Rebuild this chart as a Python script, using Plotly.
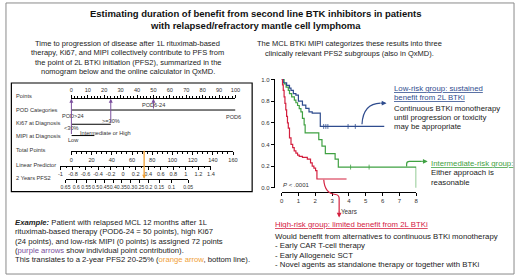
import numpy as np
import plotly.graph_objects as go

W, H = 520, 278
FONT = "Liberation Sans, Arial, sans-serif"
PURPLE = "#7A4E9C"
ORANGE = "#F0A035"
BLUE = "#2F4C8E"
GREEN = "#3FA142"
RED = "#D4203F"
TXT = "#222222"

# ---------------- data ----------------
title_lines = ["Estimating duration of benefit from second line BTK inhibitors in patients",
               "with relapsed/refractory mantle cell lymphoma"]
left_intro = ["Time to progression of disease after 1L rituximab-based",
              "therapy, Ki67, and MIPI collectively contribute to PFS from",
              "the point of 2L BTKi initiation (PFS2), summarized in the",
              "nomogram below and the online calculator in QxMD."]
right_intro = ["The MCL BTKi MIPI categorizes these results into three",
               "clinically relevant PFS2 subgroups (also in QxMD)."]

row_labels = ["Points", "POD Categories", "Ki67 at Diagnosis", "MIPI at Diagnosis",
              "Total Points", "Linear Predictor", "2 Years PFS2"]
points_ticks = [0, 10, 20, 30, 40, 50, 60, 70, 80, 90, 100]
pod_levels = ["POD>24", "POD6-24", "POD6"]
pod_points = [0, 50, 100]
ki67_levels = ["<30%", ">=30%"]
ki67_points = [0, 24]
mipi_levels = ["Low", "Intermediate or High"]
mipi_points = [0, 14]
total_ticks = [0, 20, 40, 60, 80, 100, 120, 140, 160]
lp_ticks = [-1, -0.8, -0.6, -0.4, -0.2, 0, 0.2, 0.4, 0.6, 0.8, 1, 1.2, 1.4]
lp_labels = ["-1", "-0.8", "-0.6", "-0.4", "-0.2", "0", "0.2", "0.4", "0.6", "0.8", "1", "1.2", "1.4"]
pfs2_ticks = [0.65, 0.6, 0.55, 0.5, 0.45, 0.4, 0.35, 0.3, 0.25, 0.2, 0.15, 0.1, 0.05]
pfs2_labels = ["0.65", "0.6", "0.55", "0.5", "0.45", "0.4", "0.35", "0.3", "0.25", "0.2", "0.15", "0.1", "0.05"]
example_contrib = [50, 24, 0]     # POD6-24, Ki67 >=30%, MIPI low
example_total = 72

km_low_t = [0, 0.1, 0.3, 0.47, 0.56, 0.7, 0.85, 1.0, 1.24, 1.44, 1.63, 1.82, 2.3, 6.1]
km_low_s = [1.0, 0.97, 0.945, 0.92, 0.9, 0.87, 0.855, 0.8, 0.764, 0.733, 0.70, 0.69, 0.566, 0.566]
km_low_cens_t = [2.5, 2.63, 2.75, 3.95, 4.38]
km_low_cens_s = [0.566, 0.566, 0.566, 0.566, 0.566]

km_int_t = [0, 0.15, 0.27, 0.4, 0.47, 0.6, 0.76, 0.85, 0.95, 1.05, 1.15, 1.24, 1.34, 1.4,
            2.21, 2.4, 2.6, 3.18, 3.37, 8.0]
km_int_s = [1.0, 0.96, 0.93, 0.9, 0.87, 0.84, 0.81, 0.785, 0.76, 0.73, 0.70, 0.64, 0.58, 0.506,
            0.445, 0.385, 0.315, 0.264, 0.19, 0.0]
km_int_cens_t = [4.1, 5.2]
km_int_cens_s = [0.19, 0.19]

km_high_t = [0, 0.05, 0.1, 0.15, 0.2, 0.25, 0.3, 0.35, 0.4, 0.47, 0.56, 0.66, 0.75, 0.85, 0.95,
             1.05, 1.24, 1.53, 1.72, 1.82, 1.92, 2.02, 2.1, 3.86]
km_high_s = [1.0, 0.95, 0.9, 0.84, 0.78, 0.72, 0.66, 0.6, 0.55, 0.46, 0.40, 0.37, 0.34, 0.32, 0.30,
             0.29, 0.28, 0.264, 0.23, 0.20, 0.18, 0.157, 0.08, 0.08]
km_x_ticks = [0, 1, 2, 3, 4, 5, 6, 7, 8]
km_y_ticks = [0.0, 0.2, 0.4, 0.6, 0.8, 1.0]


def px(x):
    return x / W


def py(y):
    return 1 - y / H


def cll(s):
    return np.log(-np.log(np.asarray(s, dtype=float)))


fig = go.Figure()
ann = []
shapes = []


def txt(x, y, s, size=7.2, color=TXT, anchor="left"):
    ann.append(dict(x=px(x), y=py(y), xref="paper", yref="paper", text=s, showarrow=False,
                    xanchor=anchor, yanchor="middle", font=dict(size=size, color=color, family=FONT)))


# ---------------- titles / intro text ----------------
txt(255, 11.7, "<b>" + title_lines[0] + "</b>", size=9.5, anchor="center", color="#111")
txt(255, 23.8, "<b>" + title_lines[1] + "</b>", size=9.5, anchor="center", color="#111")
for i, s in enumerate(left_intro):
    txt(125, 42.3 + 9.5 * i, s, size=7.5, anchor="center")
for i, s in enumerate(right_intro):
    txt(351, 42.3 + 9.8 * i, s, size=7.5, anchor="center")

# ---------------- nomogram ----------------
Y_POINTS, Y_POD, Y_KI, Y_MIPI, Y_TOT, Y_LP, Y_PFS = 97.5, 110, 124.5, 136, 152, 166.5, 180
label_y = [96, 109.5, 123, 136.5, 151, 165.5, 179]
for lab, yy in zip(row_labels, label_y):
    txt(9.5, yy, lab, size=5.7, color="#333")

tick_font = dict(size=5.6, color="#333", family=FONT)
common = dict(showgrid=False, zeroline=False, showline=True, linecolor="black", linewidth=1,
              ticks="outside", tickcolor="black", ticklen=3, tickwidth=1, anchor="free",
              tickfont=tick_font, fixedrange=True, tickangle=0)

fig.update_layout(
    xaxis=dict(domain=[px(67.7), px(235)], range=[0, 100], tickvals=points_ticks, side="top",
               position=py(Y_POINTS), ticklabelstandoff=1,
               minor=dict(dtick=2, ticklen=1.6, tickcolor="black", ticks="outside", showgrid=False),
               **common),
    xaxis2=dict(domain=[px(67.7), px(232.5)], range=[0, 160], tickvals=total_ticks, side="bottom",
                position=py(Y_TOT),
                minor=dict(dtick=5, ticklen=1.8, tickcolor="black", ticks="outside", showgrid=False),
                **common),
    xaxis3=dict(domain=[px(56.5), px(210)], range=[-1, 1.4], tickvals=lp_ticks, ticktext=lp_labels,
                side="bottom", position=py(Y_LP),
                minor=dict(dtick=0.1, ticklen=1.8, tickcolor="black", ticks="outside", showgrid=False),
                **common),
    xaxis4=dict(domain=[px(61.7), px(186.7)], range=[float(cll(pfs2_ticks[0])), float(cll(pfs2_ticks[-1]))],
                tickvals=list(cll(pfs2_ticks)), ticktext=pfs2_labels, side="bottom", position=py(Y_PFS),
                **common),
    yaxis=dict(domain=[0, 1], range=[H, 0], visible=False, fixedrange=True),
)
fig.layout.xaxis4.tickfont.size = 5.1

# invisible anchor traces so every axis is drawn
for xa, vals in [("x", points_ticks), ("x2", total_ticks), ("x3", lp_ticks), ("x4", list(cll(pfs2_ticks)))]:
    fig.add_trace(go.Scatter(x=vals, y=[H + 50] * len(vals), xaxis=xa, yaxis="y", mode="markers",
                             marker=dict(opacity=0), hoverinfo="skip", showlegend=False))

# category lines
for pts, yy in [(pod_points, Y_POD), (ki67_points, Y_KI), (mipi_points, Y_MIPI)]:
    fig.add_trace(go.Scatter(x=[min(pts), max(pts)], y=[yy, yy], xaxis="x", yaxis="y", mode="lines",
                             line=dict(color="black", width=1), hoverinfo="skip", showlegend=False))


def cat_label(val, yy, s, anchor="center"):
    ann.append(dict(x=val, y=yy, xref="x", yref="y", text=s, showarrow=False, xanchor=anchor,
                    yanchor="middle", font=dict(size=5.6, color="#333", family=FONT)))


cat_label(pod_points[0] + 1, Y_POD + 6, pod_levels[0])
cat_label(pod_points[1], Y_POD - 5.5, pod_levels[1])
cat_label(pod_points[2] - 1, Y_POD + 7.5, pod_levels[2])
cat_label(ki67_points[0], Y_KI + 4.3, ki67_levels[0])
cat_label(ki67_points[1], Y_KI - 3.5, ki67_levels[1])
cat_label(mipi_points[0] + 3.8, Y_MIPI - 2.6, mipi_levels[1], anchor="left")
cat_label(mipi_points[0] + 1.5, Y_MIPI + 4.2, mipi_levels[0])

# purple arrows (individual contributions)
for val, ystart in zip(example_contrib, [Y_POD, Y_KI, Y_MIPI]):
    ann.append(dict(x=val, y=Y_POINTS + 1, xref="x", yref="y", ax=val, ay=ystart, axref="x", ayref="y",
                    text="", showarrow=True, arrowhead=2, arrowsize=0.8, arrowwidth=1, arrowcolor=PURPLE,
                    standoff=0, startstandoff=0))

# orange arrow (total -> PFS2)
ann.append(dict(x=example_total, y=Y_PFS, xref="x2", yref="y", ax=example_total, ay=Y_TOT - 2,
                axref="x2", ayref="y", text="", showarrow=True, arrowhead=2, arrowsize=0.6,
                arrowwidth=1.3, arrowcolor=ORANGE, standoff=0))

shapes.append(dict(type="rect", xref="paper", yref="paper", x0=px(6.5), x1=px(252), y0=py(82.5), y1=py(193),
                   line=dict(color="black", width=1.2)))

# example text
ex_lines = ["<b><i>Example:</i></b> Patient with relapsed MCL 12 months after 1L",
            "rituximab-based therapy (POD6-24 = 50 points), high Ki67",
            "(24 points), and low-risk MIPI (0 points) is assigned 72 points",
            "(<span style='color:" + PURPLE + "'>purple arrows</span> show individual point contribution).",
            "This translates to a 2-year PFS2 20-25% (<span style='color:" + ORANGE
            + "'>orange arrow</span>, bottom line)."]
for i, s in enumerate(ex_lines):
    txt(8, 225 + 9.2 * i, s, size=7.7)

# ---------------- KM plot ----------------
fig.update_layout(
    xaxis5=dict(domain=[px(282), px(419.3)], range=[0, 8], tickvals=km_x_ticks, side="bottom",
                position=py(193.5), showgrid=False, zeroline=False, showline=True, linecolor="black",
                linewidth=1, ticks="outside", ticklen=3, tickcolor="black", anchor="free",
                tickfont=dict(size=6, color="#333", family=FONT), fixedrange=True),
    yaxis2=dict(domain=[py(189.5), py(78.5)], range=[-0.004, 1.004], tickvals=km_y_ticks, tickformat=".1f",
                anchor="free", position=px(274), showgrid=False, zeroline=False, showline=True,
                linecolor="black", linewidth=1, ticks="outside", ticklen=3, tickcolor="black",
                tickfont=dict(size=6, color="#333", family=FONT), fixedrange=True),
)
for t, s, c in [(km_int_t, km_int_s, GREEN), (km_low_t, km_low_s, BLUE), (km_high_t, km_high_s, RED)]:
    fig.add_trace(go.Scatter(x=t, y=s, xaxis="x5", yaxis="y2", mode="lines", line_shape="hv",
                             line=dict(color=c, width=1.2), hoverinfo="skip", showlegend=False))
for t, s, c in [(km_low_cens_t, km_low_cens_s, BLUE), (km_int_cens_t, km_int_cens_s, GREEN)]:
    fig.add_trace(go.Scatter(x=t, y=s, xaxis="x5", yaxis="y2", mode="markers",
                             marker=dict(symbol="line-ns", size=3.5, line=dict(color=c, width=0.8)),
                             hoverinfo="skip", showlegend=False))

ann.append(dict(x=px(297), y=py(186), xref="paper", yref="paper", text="<i>P</i> < .0001", showarrow=False,
                xanchor="center", yanchor="middle", font=dict(size=6, color="#333", family=FONT)))
txt(351, 213, "Years", size=6.3, anchor="center", color="#333")

# group texts
GS = 7.8
txt(395, 88.3, "<u>Low-risk group: sustained</u>", size=GS, color=BLUE)
txt(395, 97.7, "<u>benefit from 2L BTKi</u>", size=GS, color=BLUE)
for i, s in enumerate(["Continuous BTKi monotherapy", "until progression or toxicity", "may be appropriate"]):
    txt(395, 108.3 + 9.3 * i, s, size=GS)

txt(432.5, 164, "<u>Intermediate-risk group:</u>", size=GS, color=GREEN)
txt(432.5, 174, "Either approach is", size=GS)
txt(432.5, 184, "reasonable", size=GS)

txt(273.3, 226.7, "<u>High-risk group: limited benefit from 2L BTKi</u>", size=GS, color=RED)
for i, s in enumerate(["Would benefit from alternatives to continuous BTKi monotherapy",
                       "- Early CAR T-cell therapy", "- Early Allogeneic SCT",
                       "- Novel agents as standalone therapy or together with BTKi"]):
    txt(273.3, 239 + 9.4 * i, s, size=GS)


def path(cmds):
    out = []
    for c in cmds:
        if isinstance(c, str):
            out.append(c)
        else:
            out.append("%.5f,%.5f" % (px(c[0]), py(c[1])))
    return " ".join(out)


# curved arrows
shapes.append(dict(type="path", xref="paper", yref="paper",
                   path=path(["M", (364, 124.5), "Q", (365, 103.5), (383, 103)]), line=dict(color=BLUE, width=1.2)))
ann.append(dict(x=px(389), y=py(103), xref="paper", yref="paper", ax=-7, ay=0, text="", showarrow=True,
                arrowhead=2, arrowsize=0.8, arrowwidth=1.2, arrowcolor=BLUE))
shapes.append(dict(type="path", xref="paper", yref="paper",
                   path=path(["M", (409.5, 167.5), "L", (409.5, 165), "Q", (409.5, 162.3), (412.5, 162.3),
                              "L", (425, 162.3)]), line=dict(color=GREEN, width=1.2)))
ann.append(dict(x=px(431), y=py(162.3), xref="paper", yref="paper", ax=-7, ay=0, text="", showarrow=True,
                arrowhead=2, arrowsize=0.8, arrowwidth=1.2, arrowcolor=GREEN))
shapes.append(dict(type="path", xref="paper", yref="paper",
                   path=path(["M", (325, 181), "Q", (326, 195), (337, 196), "Q", (340.7, 196.5), (340.7, 200),
                              "L", (340.7, 213)]), line=dict(color=RED, width=1.2)))
ann.append(dict(x=px(340.7), y=py(219.5), xref="paper", yref="paper", ax=0, ay=-8, text="", showarrow=True,
                arrowhead=2, arrowsize=0.8, arrowwidth=1.2, arrowcolor=RED))

# outer frame
shapes.append(dict(type="rect", xref="paper", yref="paper", x0=px(1), x1=px(519), y0=py(1), y1=py(277),
                   line=dict(color="#8a8a8a", width=1)))

fig.update_layout(width=W, height=H, margin=dict(l=0, r=0, t=0, b=0), autosize=False,
                  paper_bgcolor="white", plot_bgcolor="rgba(0,0,0,0)", showlegend=False,
                  annotations=ann, shapes=shapes, font=dict(family=FONT))
fig.write_html("out.html", config={"displayModeBar": False},
               post_script="document.body.style.margin='0px';document.body.style.padding='0px';")
